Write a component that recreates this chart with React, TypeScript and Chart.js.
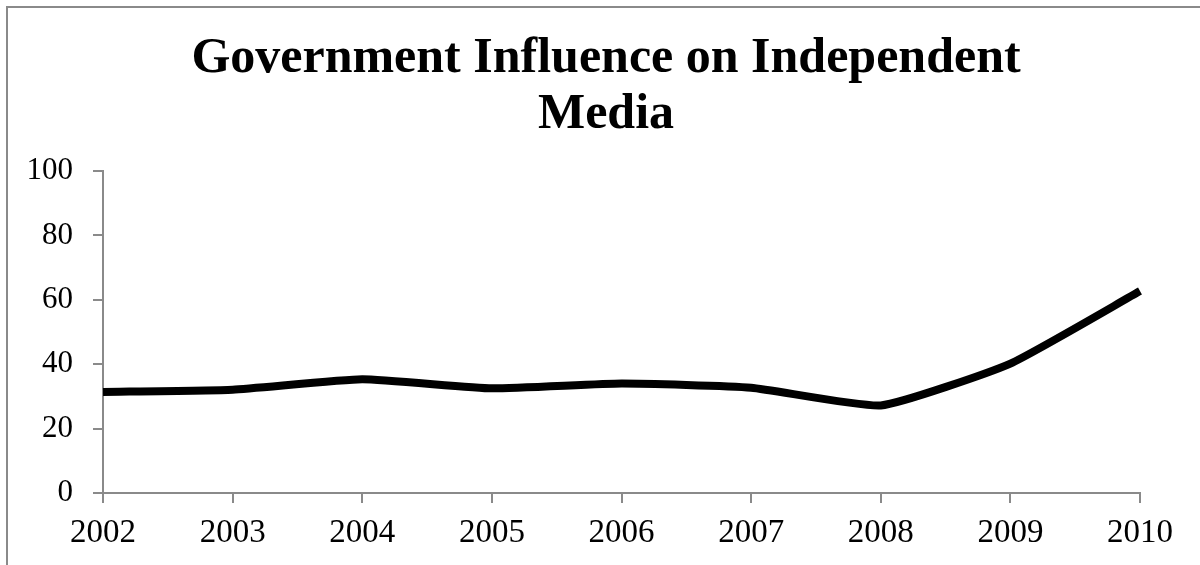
import React, { useEffect, useRef } from "react";
import { Chart, registerables } from "chart.js";

Chart.register(...registerables);

const years = ["2002", "2003", "2004", "2005", "2006", "2007", "2008", "2009", "2010"];
const influence = [31.4, 32.1, 35.3, 32.5, 34.0, 32.7, 27.2, 40.2, 62.7];
const titleLines = ["Government Influence on Independent", "Media"];
const yMin = 0;
const yMax = 100;
const yStep = 20;

export default function App() {
  const canvasRef = useRef<HTMLCanvasElement | null>(null);

  useEffect(() => {
    document.body.style.margin = "0";
    const canvas = canvasRef.current;
    if (!canvas) return;
    const axisColor = "#8a8a8a";
    const fontFamily = "'Liberation Serif', 'Times New Roman', serif";
    const chart = new Chart(canvas, {
      type: "line",
      data: {
        labels: years,
        datasets: [
          {
            label: "Government Influence on Independent Media",
            data: influence,
            borderColor: "#000000",
            backgroundColor: "#000000",
            borderWidth: 8,
            pointRadius: 0,
            pointHoverRadius: 0,
            tension: 0.15,
            fill: false,
          },
        ],
      },
      options: {
        responsive: false,
        animation: false,
        layout: { padding: { left: 12, right: 0, top: 0, bottom: 0 } },
        plugins: {
          legend: { display: false },
          tooltip: { enabled: false },
          title: {
            display: true,
            text: titleLines,
            color: "#000000",
            font: { family: fontFamily, size: 50, weight: "bold", lineHeight: 1.12 },
            padding: { top: 31, bottom: 28 },
          },
        },
        scales: {
          x: {
            offset: false,
            grid: {
              display: true,
              drawOnChartArea: false,
              drawTicks: true,
              tickLength: 10,
              color: axisColor,
              lineWidth: 2,
            },
            border: { display: true, color: axisColor, width: 2 },
            ticks: {
              color: "#000000",
              font: { family: fontFamily, size: 33 },
              padding: 11,
              maxRotation: 0,
              autoSkip: false,
            },
            afterFit: (s: any) => {
              s.height = 72;
              s.paddingLeft = 0;
              s.paddingRight = 60;
            },
          },
          y: {
            min: yMin,
            max: yMax,
            grid: {
              display: true,
              drawOnChartArea: false,
              drawTicks: true,
              tickLength: 10,
              color: axisColor,
              lineWidth: 2,
            },
            border: { display: true, color: axisColor, width: 2 },
            ticks: {
              stepSize: yStep,
              color: "#000000",
              font: { family: fontFamily, size: 31 },
              padding: 20,
            },
            afterFit: (s: any) => {
              s.width = 91;
              s.paddingTop = 0;
              s.paddingBottom = 0;
            },
          },
        },
      },
    });
    return () => chart.destroy();
  }, []);

  return (
    <div style={{ position: "relative", width: 1200, height: 565, overflow: "hidden", background: "#ffffff" }}>
      <div
        style={{
          position: "absolute",
          left: 6,
          top: 6,
          width: 1400,
          height: 800,
          border: "2px solid #8a8a8a",
          boxSizing: "border-box",
        }}
      />
      <canvas
        ref={canvasRef}
        width={1200}
        height={565}
        style={{ position: "absolute", left: 0, top: 0, width: 1200, height: 565 }}
      />
    </div>
  );
}
